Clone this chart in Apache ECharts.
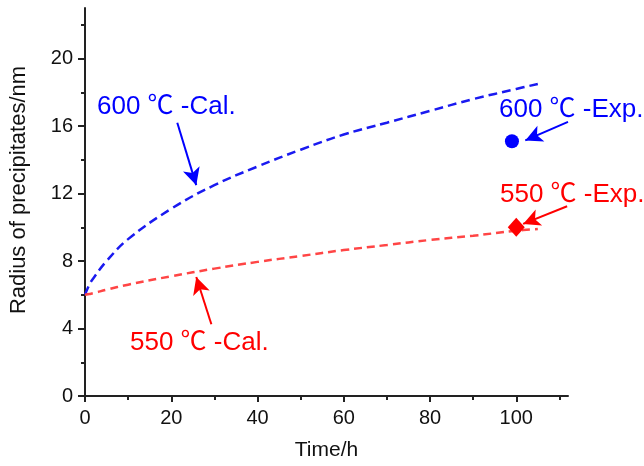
<!DOCTYPE html>
<html>
<head>
<meta charset="utf-8">
<script src="https://cdn.jsdelivr.net/npm/echarts@6/dist/echarts.min.js"></script>
<style>html,body{margin:0;padding:0;background:#fff}#c{width:644px;height:466px}</style>
</head>
<body>
<div id="c"></div>
<script>
// ---- data ----
const timeH  = [0, 1, 2, 5, 10, 20, 30, 40, 50, 60, 70, 80, 90, 100, 105];
const cal600 = [6.0, 6.6, 7.0, 8.0, 9.3, 11.1, 12.5, 13.6, 14.6, 15.5, 16.2, 16.9, 17.6, 18.2, 18.5];
const cal550 = [6.0, 6.05, 6.1, 6.3, 6.6, 7.1, 7.55, 7.95, 8.3, 8.65, 8.95, 9.25, 9.5, 9.8, 9.9];
const exp600 = [[99, 15.1]];
const exp550 = [[100, 10.0]];
const xMajorTicks = [0, 20, 40, 60, 80, 100];
const xMinorTicks = [10, 30, 50, 70, 90, 110];
const yMajorTicks = [0, 4, 8, 12, 16, 20];
const yMinorTicks = [2, 6, 10, 14, 18, 22];
const labels = {
  cal600: '600 ℃ -Cal.',
  exp600: '600 ℃ -Exp.',
  exp550: '550 ℃ -Exp.',
  cal550: '550 ℃ -Cal.'
};
// arrows: [from, to] in data coordinates
const arrowCal600 = [[21.4, 16.2], [25.8, 12.5]];
const arrowExp600 = [[112.0, 16.25], [102.1, 15.15]];
const arrowExp550 = [[111.8, 11.25], [101.6, 10.2]];
const arrowCal550 = [[29.3, 4.25], [25.8, 7.05]];

const BLUE = '#0000ff';
const RED = '#ff0000';
const FONT = 'Arial, "Liberation Sans", "Noto Sans CJK SC", sans-serif';
const AX = '#222';

const chart = echarts.init(document.getElementById('c'), null, {renderer: 'canvas'});

function zip(xs, ys) { return xs.map((x, i) => [x, ys[i]]); }
function arrow(pts, color) {
  return {
    silent: true,
    symbol: ['none', 'arrow'],
    symbolSize: [13, 17],
    label: {show: false},
    lineStyle: {color: color, width: 2, type: 'solid', opacity: 1},
    data: [[{coord: pts[0]}, {coord: pts[1]}]]
  };
}

const baseX = {
  type: 'value', min: 0, max: 112, interval: 20,
  splitLine: {show: false},
  axisLine: {show: true, onZero: false, lineStyle: {color: AX, width: 2}}
};
const baseY = {
  type: 'value', min: 0, max: 23, interval: 4,
  splitLine: {show: false},
  axisLine: {show: true, onZero: false, lineStyle: {color: AX, width: 2}}
};

chart.setOption({
  animation: false,
  backgroundColor: '#fff',
  grid: {left: 84, right: 76, top: 8, bottom: 69, containLabel: false},
  xAxis: [
    Object.assign({}, baseX, {
      position: 'bottom',
      name: 'Time/h', nameLocation: 'middle', nameGap: 44,
      nameTextStyle: {fontFamily: FONT, fontSize: 21, color: '#111'},
      axisTick: {show: true, customValues: xMajorTicks, length: 6, lineStyle: {color: AX, width: 2}},
      axisLabel: {customValues: xMajorTicks, fontFamily: FONT, fontSize: 20, color: '#111', margin: 12}
    }),
    Object.assign({}, baseX, {
      position: 'bottom',
      axisLine: {show: false},
      axisTick: {show: true, customValues: xMinorTicks, length: 4, lineStyle: {color: AX, width: 2}},
      axisLabel: {show: false}
    })
  ],
  yAxis: [
    Object.assign({}, baseY, {
      position: 'left',
      name: 'Radius of precipitates/nm', nameLocation: 'middle', nameGap: 55, nameRotate: 90,
      nameTextStyle: {fontFamily: FONT, fontSize: 22, color: '#111', padding: [0, 0, 0, 24]},
      axisTick: {show: true, customValues: yMajorTicks, length: 7, lineStyle: {color: AX, width: 2}},
      axisLabel: {customValues: yMajorTicks, fontFamily: FONT, fontSize: 20, color: '#111', margin: 12}
    }),
    Object.assign({}, baseY, {
      position: 'left',
      axisLine: {show: false},
      axisTick: {show: true, customValues: yMinorTicks, length: 4, lineStyle: {color: AX, width: 2}},
      axisLabel: {show: false}
    })
  ],
  series: [
    {
      type: 'line', name: '600 Cal', data: zip(timeH, cal600), smooth: 0.4,
      showSymbol: false, symbol: 'none',
      lineStyle: {color: '#1a1af0', width: 2.5, type: [9, 5]},
      markLine: arrow(arrowCal600, BLUE)
    },
    {
      type: 'line', name: '550 Cal', data: zip(timeH, cal550), smooth: 0.4,
      showSymbol: false, symbol: 'none',
      lineStyle: {color: '#ff4545', width: 2.5, type: [8, 5]},
      markLine: arrow(arrowCal550, RED)
    },
    {
      type: 'scatter', name: '600 Exp', data: exp600, symbol: 'circle', symbolSize: 14,
      itemStyle: {color: BLUE, opacity: 1},
      z: 5,
      markLine: arrow(arrowExp600, BLUE)
    },
    {
      type: 'scatter', name: '550 Exp', data: exp550, symbol: 'diamond', symbolSize: [17, 19],
      itemStyle: {color: RED, opacity: 1},
      z: 5,
      markLine: arrow(arrowExp550, RED)
    }
  ],
  graphic: [
    {type: 'text', left: 97, top: 94, style: {text: labels.cal600, fill: BLUE, font: '26px ' + FONT}},
    {type: 'text', left: 499, top: 97, style: {text: labels.exp600, fill: BLUE, font: '26px ' + FONT}},
    {type: 'text', left: 500, top: 182, style: {text: labels.exp550, fill: RED, font: '26px ' + FONT}},
    {type: 'text', left: 130, top: 330, style: {text: labels.cal550, fill: RED, font: '26px ' + FONT}}
  ]
});
</script>
</body>
</html>
